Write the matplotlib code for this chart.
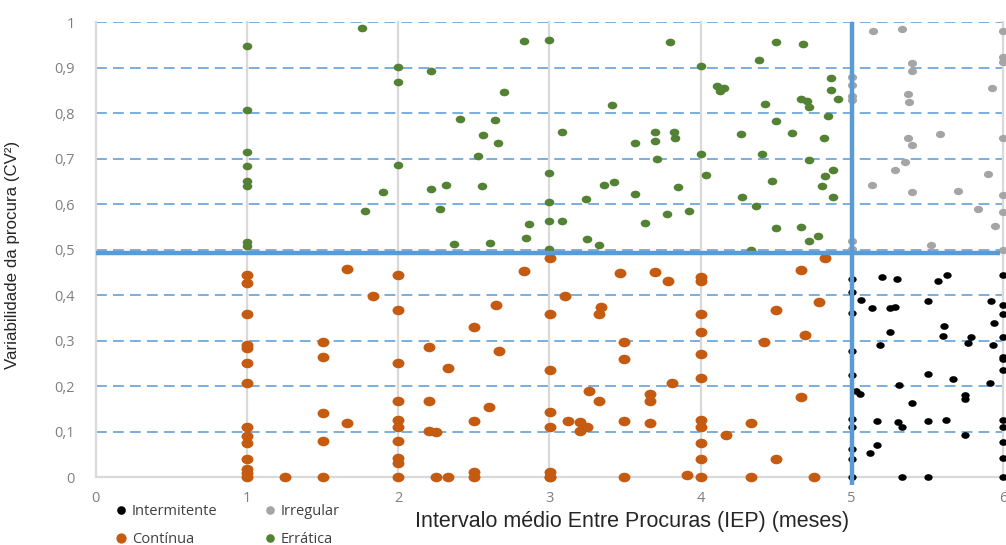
import matplotlib
matplotlib.use("Agg")
import matplotlib.pyplot as plt
import matplotlib.transforms as mtransforms
from matplotlib.path import Path
from matplotlib.lines import Line2D

# --- demand classification data: x = mean inter-demand interval, y = CV^2 ---
intermitente_x = [5.0, 5.203, 5.302, 5.568, 5.63, 6.0, 5.0, 5.058, 5.135, 5.252, 5.289, 5.503,
                  5.923, 6.0, 6.0, 5.0, 5.94, 5.609, 5.601, 5.252, 5.787, 5.767, 5.933, 6.0,
                  5.185, 5.0, 6.0, 6.0, 6.0, 5.0, 5.503, 5.667, 5.911, 5.313, 5.031, 5.052,
                  5.752, 5.752, 5.398, 5.0, 5.0, 5.167, 5.306, 5.332, 5.503, 5.623, 5.752,
                  6.0, 6.0, 6.0, 6.0, 5.0, 5.0, 5.167, 5.123, 5.0, 5.332, 5.503, 6.0]
intermitente_y = [0.436, 0.44, 0.436, 0.432, 0.445, 0.445, 0.407, 0.39, 0.372, 0.372, 0.374, 0.387,
                  0.387, 0.379, 0.36, 0.361, 0.339, 0.333, 0.311, 0.319, 0.308, 0.295, 0.291, 0.308,
                  0.291, 0.277, 0.265, 0.26, 0.236, 0.224, 0.228, 0.215, 0.207, 0.202, 0.19, 0.182,
                  0.18, 0.172, 0.164, 0.128, 0.111, 0.123, 0.121, 0.111, 0.123, 0.126, 0.094,
                  0.127, 0.11, 0.078, 0.042, 0.063, 0.041, 0.071, 0.054, 0.0, 0.0, 0.0, 0.0]

irregular_x = [5.141, 5.33, 6.0, 5.398, 5.398, 6.0, 6.0, 5.0, 5.0, 5.0, 5.0, 5.372, 5.379, 5.925,
               5.372, 5.398, 5.582, 6.0, 5.355, 5.289, 5.9, 5.135, 5.398, 5.702, 6.0, 5.832,
               6.0, 5.946, 5.526, 5.0, 5.0, 6.0]
irregular_y = [0.98, 0.985, 0.981, 0.911, 0.894, 0.924, 0.913, 0.879, 0.863, 0.838, 0.829, 0.842,
               0.825, 0.855, 0.746, 0.731, 0.754, 0.745, 0.694, 0.676, 0.666, 0.642, 0.626, 0.63,
               0.62, 0.59, 0.583, 0.552, 0.511, 0.519, 0.501, 0.5]

continua_x = [1.0, 1.0, 1.0, 1.0, 1.0, 1.0, 1.0, 1.0, 1.0, 1.0, 1.0, 1.0, 1.0, 1.0,
              1.251, 1.502, 1.502, 1.502, 1.502, 1.502, 1.665, 1.665, 1.837,
              2.0, 2.0, 2.0, 2.0, 2.0, 2.0, 2.0, 2.0, 2.0, 2.0,
              2.203, 2.203, 2.203, 2.252, 2.252, 2.331, 2.331, 2.503, 2.503, 2.503, 2.503,
              2.6, 2.648, 2.666, 2.833,
              3.005, 3.005, 3.005, 3.005, 3.005, 3.005, 3.005, 3.005,
              3.106, 3.125, 3.2, 3.2, 3.251, 3.266, 3.332, 3.332, 3.345, 3.467,
              3.497, 3.497, 3.497, 3.497, 3.669, 3.669, 3.669, 3.7, 3.784, 3.81, 3.909,
              4.0, 4.0, 4.0, 4.0, 4.0, 4.0, 4.0, 4.0, 4.0, 4.0, 4.0,
              4.17, 4.335, 4.335, 4.421, 4.5, 4.5, 4.665, 4.665, 4.694, 4.752, 4.782, 4.824]
continua_y = [0.445, 0.428, 0.36, 0.291, 0.285, 0.251, 0.207, 0.111, 0.091, 0.075, 0.04, 0.018, 0.009, 0.0,
              0.0, 0.298, 0.264, 0.141, 0.08, 0.0, 0.458, 0.119, 0.399,
              0.444, 0.368, 0.251, 0.168, 0.126, 0.111, 0.08, 0.042, 0.031, 0.0,
              0.286, 0.168, 0.102, 0.1, 0.0, 0.24, 0.0, 0.33, 0.124, 0.012, 0.0,
              0.155, 0.379, 0.278, 0.453,
              0.481, 0.36, 0.236, 0.144, 0.111, 0.012, 0.0, 0.0,
              0.398, 0.124, 0.122, 0.102, 0.111, 0.19, 0.36, 0.168, 0.374, 0.449,
              0.298, 0.261, 0.124, 0.0, 0.184, 0.168, 0.119, 0.451, 0.431, 0.208, 0.005,
              0.44, 0.431, 0.36, 0.32, 0.271, 0.219, 0.126, 0.111, 0.075, 0.04, 0.0,
              0.094, 0.119, 0.0, 0.298, 0.367, 0.04, 0.455, 0.176, 0.313, 0.0, 0.386, 0.483]

erratica_x = [1.0, 1.0, 1.0, 1.0, 1.0, 1.0, 1.0, 1.0,
              1.764, 1.781, 1.902, 2.0, 2.0, 2.0,
              2.215, 2.215, 2.276, 2.318, 2.373, 2.408, 2.531, 2.558, 2.562, 2.61, 2.64, 2.66, 2.698,
              2.833, 2.844, 2.864, 3.0, 3.0, 3.0, 3.0, 3.0,
              3.084, 3.084, 3.24, 3.249, 3.332, 3.363, 3.418, 3.431, 3.566, 3.566, 3.632,
              3.7, 3.7, 3.71, 3.777, 3.8, 3.825, 3.832, 3.854, 3.926,
              4.0, 4.0, 4.036, 4.111, 4.127, 4.155, 4.267, 4.274, 4.335, 4.364, 4.384, 4.404,
              4.426, 4.47, 4.498, 4.499, 4.5, 4.608, 4.663, 4.665, 4.68, 4.705, 4.716, 4.717,
              4.72, 4.777, 4.8, 4.817, 4.824, 4.844, 4.861, 4.861, 4.873, 4.873, 4.91]
erratica_y = [0.947, 0.808, 0.716, 0.684, 0.652, 0.64, 0.518, 0.509,
              0.987, 0.585, 0.626, 0.901, 0.869, 0.686,
              0.894, 0.634, 0.59, 0.642, 0.512, 0.787, 0.707, 0.64, 0.753, 0.515, 0.786, 0.734, 0.847,
              0.96, 0.527, 0.557, 0.961, 0.669, 0.604, 0.563, 0.501,
              0.758, 0.563, 0.612, 0.523, 0.511, 0.642, 0.818, 0.648, 0.734, 0.623, 0.559,
              0.758, 0.739, 0.699, 0.578, 0.957, 0.759, 0.746, 0.638, 0.585,
              0.905, 0.71, 0.665, 0.86, 0.849, 0.855, 0.755, 0.616, 0.499, 0.596, 0.917, 0.71,
              0.82, 0.652, 0.956, 0.782, 0.547, 0.757, 0.832, 0.55, 0.952, 0.826, 0.814, 0.519,
              0.697, 0.53, 0.64, 0.745, 0.662, 0.793, 0.878, 0.851, 0.675, 0.617, 0.832]

# classification thresholds
iep_limit = 5.0
cv2_limit = 0.492

x_ticks = [0, 1, 2, 3, 4, 5, 6]
y_ticks = [0, 0.1, 0.2, 0.3, 0.4, 0.5, 0.6, 0.7, 0.8, 0.9, 1.0]
y_ticklabels = ["0", "0,1", "0,2", "0,3", "0,4", "0,5", "0,6", "0,7", "0,8", "0,9", "1"]

W, H = 1006, 545
fig = plt.figure(figsize=(W / 100, H / 100), dpi=100)
ax = fig.add_axes([95.5 / W, 1 - 477.3 / H, (1003 - 95.5) / W, 455 / H])
ax.set_xlim(0, 6)
ax.set_ylim(0, 1)

# slightly flattened round marker
ellipse = Path.unit_circle().transformed(mtransforms.Affine2D().scale(1.0, 0.8))

series = [
    ("Intermitente", intermitente_x, intermitente_y, "#000000", 6.0),
    ("Irregular", irregular_x, irregular_y, "#A5A5A5", 6.6),
    ("Contínua", continua_x, continua_y, "#C55A11", 8.6),
    ("Errática", erratica_x, erratica_y, "#548235", 6.9),
]
for name, xs, ys, col, w in series:
    ax.scatter(xs, ys, s=w ** 2, marker=ellipse, color=col, linewidths=0,
               zorder=3, clip_on=False, label=name)

# grid: dashed horizontal, solid light vertical
for yv in y_ticks[1:]:
    ax.axhline(yv, color="#6FA8DC", lw=1.3, linestyle=(0, (6.0, 3.4)), zorder=1)
for xv in x_ticks[1:]:
    ax.axvline(xv, color="#D9D9D9", lw=1.6, zorder=1, clip_on=False)

# threshold lines
ax.plot([0, 5.98], [cv2_limit, cv2_limit], color="#5B9BD5", lw=3.2, zorder=5,
        solid_capstyle="butt", clip_on=False)
ax.plot([iep_limit, iep_limit], [-0.018, 1.0], color="#5B9BD5", lw=3.2, zorder=5,
        solid_capstyle="butt", clip_on=False)

for side in ["top", "right"]:
    ax.spines[side].set_visible(False)
for side in ["left", "bottom"]:
    ax.spines[side].set_color("#D9D9D9")
    ax.spines[side].set_linewidth(1.6)
    ax.spines[side].set_zorder(1)

ax.set_xticks(x_ticks)
ax.set_xticklabels([str(v) for v in x_ticks])
ax.set_yticks(y_ticks)
ax.set_yticklabels(y_ticklabels)
ax.tick_params(length=0, colors="#7F7F7F", labelsize=10.5)
ax.tick_params(axis="y", pad=15)
ax.tick_params(axis="x", pad=10)
for lab in ax.get_xticklabels() + ax.get_yticklabels():
    lab.set_fontfamily("Open Sans")

ax.set_xlabel("Intervalo médio Entre Procuras (IEP) (meses)", fontsize=15.5,
              family="Liberation Sans", color="#262626")
ax.xaxis.set_label_coords(0.591, -0.074)
ax.set_ylabel("Variabilidade da procura (CV²)", fontsize=12.2,
              family="Liberation Sans", color="#262626")
ax.yaxis.set_label_coords(-0.083, 0.489)

# legend in two rows under the axis
handles = []
for name, xs, ys, col, w in series:
    handles.append(Line2D([], [], linestyle="none", marker="o", markersize=6.2 if name != "Contínua" else 7.4,
                          markerfacecolor=col, markeredgewidth=0, label=name))
order = [0, 2, 1, 3]
fig.legend([handles[i] for i in order], [handles[i].get_label() for i in order],
           ncol=2, loc="upper left", bbox_to_anchor=(108 / W, 1 - 497 / H),
           frameon=False, handlelength=0.8, handletextpad=0.35, columnspacing=3.2,
           labelspacing=0.85, prop={"family": "Open Sans", "size": 10.5},
           labelcolor="#404040", borderpad=0)

fig.savefig("out.png", dpi=100)
